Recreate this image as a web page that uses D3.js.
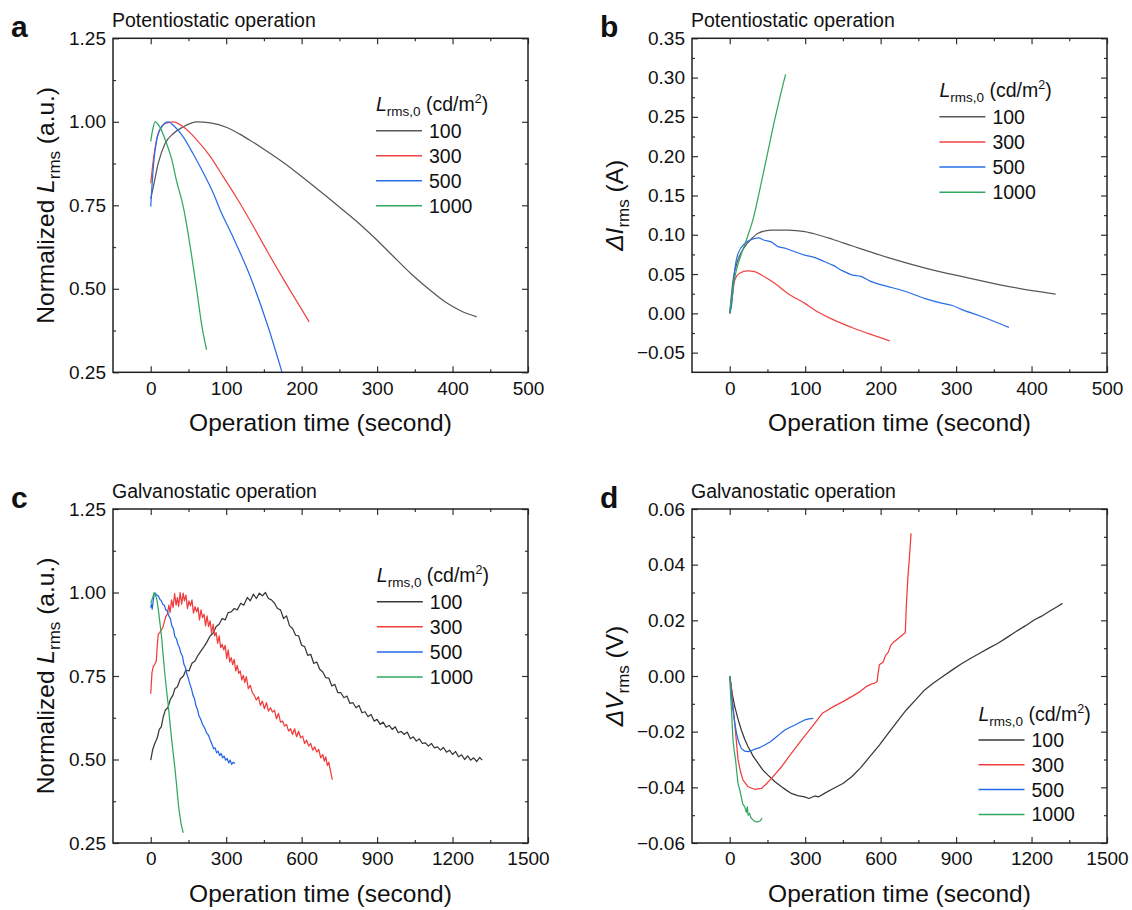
<!DOCTYPE html>
<html><head><meta charset="utf-8">
<script src="https://cdn.jsdelivr.net/npm/d3@7"></script>
<style>
body{margin:0;background:#fff;}
text{font-family:"Liberation Sans",Arial,Helvetica,sans-serif;fill:#111;}
</style></head><body>
<svg id="chart" width="1132" height="910"></svg>
<script>
// ---------------- DATA ----------------
const legendLabels = ["100", "300", "500", "1000"];

// tick labels
const xTicksPot = [0, 100, 200, 300, 400, 500];
const xTicksGal = [0, 300, 600, 900, 1200, 1500];
const yTicksLum = [0.25, 0.50, 0.75, 1.00, 1.25];
const yTicksCur = [-0.05, 0, 0.05, 0.10, 0.15, 0.20, 0.25, 0.30, 0.35];
const yTicksVolt = [-0.06, -0.04, -0.02, 0, 0.02, 0.04, 0.06];

// (a) Potentiostatic, normalized L_rms  [time s, value]
const potLum100 = [[0,0.77],[3.5,0.806],[10,0.876],[19,0.935],[30,0.965],[43,0.985],[61,1.0],[79,0.997],[101,0.983],[118,0.963],[132,0.944],[150,0.918],[179,0.873],[210,0.818],[250,0.745],[275,0.698],[297,0.652],[321,0.598],[345,0.545],[368,0.50],[392,0.458],[410,0.435],[432,0.416]];
const potLum300 = [[0,0.816],[3.5,0.886],[10,0.966],[19,0.995],[30,1.0],[43,0.985],[61,0.946],[79,0.896],[96,0.836],[114,0.772],[132,0.703],[155,0.610],[179,0.517],[195,0.457],[210,0.401]];
const potLum500 = [[0,0.746],[3.5,0.866],[8,0.946],[14.5,0.985],[23,1.0],[32,0.985],[43,0.955],[56,0.905],[70,0.846],[83,0.786],[92,0.736],[108,0.66],[132,0.536],[155,0.39],[174,0.25]];
const potLum1000 = [[0,0.941],[2.5,0.975],[5.7,1.0],[12,0.985],[21,0.935],[28,0.886],[34,0.825],[41,0.766],[44,0.736],[51,0.645],[61,0.496],[68,0.386],[74,0.317]];

// (b) Potentiostatic, delta I_rms (A)
const potCur100 = [[0,0],[4.4,0.042],[11,0.068],[20,0.085],[29,0.095],[37.6,0.102],[55,0.106],[77,0.106],[99.5,0.104],[113,0.101],[137,0.094],[162,0.086],[210,0.071],[258,0.058],[307,0.047],[355,0.037],[403,0.0285],[432,0.0246]];
const potCur300 = [[0,0],[2.2,0.0127],[6.6,0.042],[13,0.051],[24,0.054],[33,0.053],[46,0.0465],[60,0.038],[77,0.0254],[99.5,0.0127],[113,0.004],[137,-0.008],[162,-0.018],[186,-0.0265],[212,-0.035]];
const potCur500 = [[0,0],[2.2,0.0085],[6.6,0.055],[11,0.076],[20,0.089],[29,0.094],[37.6,0.096],[46,0.093],[55,0.091],[64,0.085],[73,0.083],[82,0.080],[99.5,0.074],[113,0.071],[125,0.066],[137,0.061],[150,0.054],[162,0.049],[174,0.047],[186,0.041],[210,0.034],[222,0.031],[234,0.0275],[258,0.019],[282,0.0127],[295,0.010],[307,0.005],[331,-0.003],[350,-0.010],[370,-0.0178]];
const potCur1000 = [[0,0],[4.4,0.034],[8.8,0.055],[15.5,0.076],[22,0.093],[26.5,0.106],[31,0.12],[40,0.158],[50,0.203],[60,0.248],[68,0.281],[74,0.304]];

// (c) Galvanostatic, normalized L_rms
const galLum100 = [[0,0.498],[8,0.530],[16,0.548],[26,0.565],[34,0.590],[42,0.598],[50,0.628],[58,0.648],[68,0.655],[78,0.680],[88,0.692],[96,0.712],[106,0.718],[118,0.742],[130,0.750],[140,0.768],[152,0.765],[164,0.788],[176,0.795],[188,0.812],[200,0.825],[212,0.838],[222,0.850],[236,0.870],[248,0.878],[260,0.898],[272,0.905],[284,0.922],[296,0.918],[308,0.940],[320,0.942],[332,0.952],[344,0.948],[358,0.968],[370,0.962],[384,0.985],[396,0.975],[408,0.995],[420,0.982],[432,0.998],[444,0.990],[456,1.0],[468,0.982],[480,0.978],[492,0.968],[504,0.952],[516,0.948],[528,0.922],[540,0.930],[552,0.900],[564,0.892],[576,0.872],[588,0.870],[600,0.842],[612,0.838],[624,0.812],[636,0.815],[648,0.788],[660,0.792],[672,0.770],[684,0.762],[696,0.745],[708,0.744],[720,0.720],[732,0.725],[744,0.700],[756,0.700],[768,0.685],[780,0.690],[792,0.668],[804,0.670],[816,0.655],[828,0.662],[840,0.640],[852,0.643],[864,0.628],[876,0.635],[888,0.615],[900,0.620],[912,0.605],[924,0.612],[936,0.597],[948,0.602],[960,0.590],[972,0.598],[984,0.580],[996,0.584],[1008,0.575],[1020,0.582],[1032,0.562],[1044,0.568],[1056,0.555],[1068,0.562],[1080,0.548],[1092,0.550],[1104,0.540],[1116,0.548],[1128,0.535],[1140,0.538],[1152,0.528],[1164,0.536],[1176,0.522],[1188,0.528],[1200,0.515],[1212,0.524],[1224,0.508],[1236,0.514],[1248,0.500],[1260,0.511],[1272,0.498],[1284,0.505],[1296,0.494],[1308,0.506],[1318,0.498]];
const galLum300 = [[0,0.697],[5,0.760],[10,0.778],[16,0.785],[22,0.795],[26,0.840],[30,0.875],[36,0.880],[42,0.888],[48,0.895],[54,0.912],[60,0.928],[66,0.935],[72,0.962],[77,0.940],[83,0.978],[89,0.955],[95,0.997],[101,0.962],[106,0.985],[111,0.958],[117,1.0],[123,0.965],[129,0.998],[134,0.975],[140,0.992],[146,0.952],[152,0.975],[158,0.960],[164,0.978],[170,0.938],[176,0.958],[182,0.942],[188,0.955],[194,0.918],[200,0.948],[206,0.925],[212,0.935],[218,0.900],[224,0.930],[230,0.898],[236,0.915],[242,0.878],[248,0.905],[254,0.870],[260,0.880],[266,0.848],[272,0.870],[278,0.835],[284,0.845],[290,0.828],[296,0.842],[302,0.802],[308,0.828],[314,0.792],[320,0.805],[326,0.784],[332,0.800],[338,0.765],[344,0.782],[350,0.758],[356,0.765],[362,0.738],[368,0.752],[374,0.730],[380,0.748],[388,0.712],[396,0.722],[404,0.700],[412,0.692],[420,0.678],[428,0.688],[436,0.662],[444,0.675],[452,0.652],[460,0.670],[468,0.645],[476,0.655],[484,0.642],[492,0.648],[500,0.622],[508,0.638],[516,0.612],[524,0.615],[532,0.600],[540,0.605],[548,0.585],[556,0.592],[564,0.575],[572,0.592],[580,0.568],[588,0.585],[596,0.565],[604,0.570],[612,0.548],[620,0.558],[628,0.540],[636,0.548],[644,0.528],[652,0.538],[660,0.522],[668,0.530],[676,0.505],[684,0.515],[690,0.495],[696,0.508],[702,0.482],[708,0.492],[714,0.468],[722,0.440]];
const galLum500 = [[0,0.955],[3,0.965],[6,0.950],[10,0.975],[14,0.995],[18,0.998],[24,0.992],[30,0.990],[36,0.980],[42,0.975],[48,0.965],[54,0.962],[60,0.948],[66,0.945],[72,0.930],[78,0.922],[84,0.900],[90,0.892],[96,0.868],[102,0.862],[108,0.845],[114,0.835],[120,0.818],[126,0.810],[132,0.785],[138,0.775],[144,0.755],[150,0.742],[156,0.725],[162,0.712],[168,0.692],[174,0.682],[180,0.660],[186,0.650],[192,0.630],[198,0.622],[206,0.605],[214,0.595],[222,0.580],[230,0.572],[238,0.555],[244,0.545],[250,0.532],[256,0.535],[262,0.520],[268,0.525],[274,0.512],[280,0.518],[286,0.505],[292,0.510],[298,0.498],[304,0.503],[310,0.490],[316,0.498],[322,0.485],[328,0.492],[335,0.488]];
const galLum1000 = [[0,0.967],[8,0.985],[14,1.0],[20,0.99],[24,0.98],[30,0.95],[37,0.907],[44,0.86],[50,0.807],[57,0.75],[64,0.70],[70,0.66],[82,0.568],[97,0.468],[111,0.358],[120,0.31],[129,0.28]];

// (d) Galvanostatic, delta V_rms (V)
const galVolt100 = [[0,0],[10,-0.0065],[20,-0.011],[33,-0.0155],[46,-0.0194],[60,-0.0228],[73,-0.0254],[93,-0.0288],[113,-0.0314],[132,-0.0338],[152,-0.0356],[180,-0.0380],[206,-0.0398],[225,-0.0410],[245,-0.0422],[270,-0.0430],[298,-0.0434],[315,-0.0440],[338,-0.0431],[354,-0.0434],[380,-0.0420],[412,-0.0404],[450,-0.0386],[485,-0.0362],[520,-0.0330],[557,-0.0290],[595,-0.0248],[630,-0.0206],[665,-0.0165],[702,-0.0122],[740,-0.0085],[775,-0.0050],[810,-0.0025],[847,-0.0002],[885,0.0022],[920,0.0043],[955,0.0062],[992,0.0081],[1030,0.0100],[1065,0.0117],[1100,0.0137],[1137,0.0159],[1175,0.0180],[1210,0.0201],[1240,0.0215],[1268,0.0231],[1300,0.0248],[1323,0.0261]];
const galVolt300 = [[0,0],[5,-0.0026],[12,-0.010],[20,-0.017],[33,-0.030],[43,-0.0345],[53,-0.0374],[73,-0.0398],[99,-0.0407],[126,-0.0404],[145,-0.0388],[166,-0.0368],[206,-0.0326],[245,-0.0278],[285,-0.023],[338,-0.017],[368,-0.0134],[390,-0.0122],[412,-0.011],[450,-0.0092],[485,-0.0074],[515,-0.0058],[543,-0.0038],[560,-0.0030],[575,-0.0026],[586,-0.002],[590,0.001],[595,0.004],[610,0.005],[620,0.0075],[630,0.0085],[640,0.011],[650,0.012],[670,0.0135],[690,0.015],[698,0.0155],[702,0.025],[708,0.035],[714,0.042],[721,0.0513]];
const galVolt500 = [[0,0],[6,-0.006],[13,-0.0122],[20,-0.0168],[27,-0.0206],[36,-0.0238],[46,-0.026],[60,-0.027],[73,-0.0272],[86,-0.0268],[99,-0.0263],[120,-0.0257],[139,-0.0248],[160,-0.0237],[179,-0.0224],[200,-0.0208],[219,-0.0194],[240,-0.0184],[259,-0.0176],[280,-0.0166],[298,-0.0158],[315,-0.0154],[332,-0.0152]];
const galVolt1000 = [[0,0],[3,-0.006],[7,-0.0122],[10,-0.018],[13,-0.023],[18,-0.027],[23,-0.030],[28,-0.0345],[33,-0.0386],[40,-0.041],[46,-0.0434],[52,-0.046],[60,-0.047],[66,-0.049],[70,-0.047],[73,-0.050],[78,-0.0493],[85,-0.051],[93,-0.0517],[100,-0.0522],[108,-0.0524],[115,-0.0523],[122,-0.052],[129,-0.0511]];

// ---------------- DRAWING ----------------
const svg = d3.select("#chart");
const colorsPot = ["#585858", "#f04545", "#2a6ee6", "#31a862"];
const colorsGal = ["#383838", "#f03c3c", "#2468e6", "#31a862"];
const fmt2 = d3.format(".2f");
const fmtInt = d3.format("d");

function midpoints(arr) { return arr.slice(1).map((v, i) => (v + arr[i]) / 2); }

function drawPanel(p) {
  const x = d3.scaleLinear().domain(p.xDomain).range([p.x0, p.x1]);
  const y = d3.scaleLinear().domain(p.yDomain).range([p.y1, p.y0]);
  const g = svg.append("g");
  const clipId = "clip_" + p.letter;
  svg.append("clipPath").attr("id", clipId).append("rect")
    .attr("x", p.x0).attr("y", p.y0).attr("width", p.x1 - p.x0).attr("height", p.y1 - p.y0);

  // data lines
  const line = d3.line().x(d => x(d[0])).y(d => y(d[1])).curve(p.curve);
  p.series.forEach((s, i) => {
    g.append("path").datum(s).attr("d", line)
      .attr("fill", "none").attr("stroke", p.colors[i]).attr("stroke-width", 1.25)
      .attr("stroke-linejoin", "round").attr("clip-path", `url(#${clipId})`);
  });

  const xMinor = midpoints(p.xTicks);
  const yMinor = midpoints(p.yTicks);

  function styleAxis(sel) {
    sel.select(".domain").remove();
    sel.selectAll(".tick line").attr("stroke", "#333").attr("stroke-width", 1.2);
    sel.selectAll(".tick text").attr("font-size", 19).attr("fill", "#111")
      .attr("font-family", "Liberation Sans, Arial, sans-serif");
  }
  // bottom
  g.append("g").attr("transform", `translate(0,${p.y1})`)
    .call(d3.axisBottom(x).tickValues(p.xTicks).tickSizeInner(-6).tickSizeOuter(0).tickPadding(9).tickFormat(fmtInt)).call(styleAxis);
  g.append("g").attr("transform", `translate(0,${p.y1})`)
    .call(d3.axisBottom(x).tickValues(xMinor).tickSizeInner(-3).tickSizeOuter(0).tickFormat("")).call(styleAxis);
  // top
  g.append("g").attr("transform", `translate(0,${p.y0})`)
    .call(d3.axisTop(x).tickValues(p.xTicks).tickSizeInner(-6).tickSizeOuter(0).tickFormat("")).call(styleAxis);
  g.append("g").attr("transform", `translate(0,${p.y0})`)
    .call(d3.axisTop(x).tickValues(xMinor).tickSizeInner(-3).tickSizeOuter(0).tickFormat("")).call(styleAxis);
  // left
  g.append("g").attr("transform", `translate(${p.x0},0)`)
    .call(d3.axisLeft(y).tickValues(p.yTicks).tickSizeInner(-6).tickSizeOuter(0).tickPadding(7).tickFormat(fmt2)).call(styleAxis);
  g.append("g").attr("transform", `translate(${p.x0},0)`)
    .call(d3.axisLeft(y).tickValues(yMinor).tickSizeInner(-3).tickSizeOuter(0).tickFormat("")).call(styleAxis);
  // right
  g.append("g").attr("transform", `translate(${p.x1},0)`)
    .call(d3.axisRight(y).tickValues(p.yTicks).tickSizeInner(-6).tickSizeOuter(0).tickFormat("")).call(styleAxis);
  g.append("g").attr("transform", `translate(${p.x1},0)`)
    .call(d3.axisRight(y).tickValues(yMinor).tickSizeInner(-3).tickSizeOuter(0).tickFormat("")).call(styleAxis);

  // frame
  g.append("rect").attr("x", p.x0).attr("y", p.y0).attr("width", p.x1 - p.x0).attr("height", p.y1 - p.y0)
    .attr("fill", "none").attr("stroke", "#222").attr("stroke-width", 1.5);

  // panel letter
  g.append("text").attr("x", p.letterX).attr("y", p.y0 - 1).attr("font-size", 30).attr("font-weight", "bold").text(p.letter);
  // title
  g.append("text").attr("x", p.x0 - 1).attr("y", p.y0 - 11.5).attr("font-size", 19.5).text(p.title);

  // x-axis title
  g.append("text").attr("x", (p.x0 + p.x1) / 2).attr("y", p.y1 + 59).attr("text-anchor", "middle")
    .attr("font-size", 24.5).text("Operation time (second)");

  // y-axis title
  const yt = g.append("text")
    .attr("transform", `translate(${p.yTitleX},${(p.y0 + p.y1) / 2}) rotate(-90)`)
    .attr("text-anchor", "middle").attr("font-size", 24.5);
  p.yTitle.forEach(part => {
    const t = yt.append("tspan").text(part.t);
    if (part.i) t.attr("font-style", "italic");
    if (part.sub) t.attr("font-size", 17).attr("dy", 6);
    if (part.back) t.attr("dy", -6);
  });

  // legend
  const lg = g.append("g");
  const head = lg.append("text").attr("x", p.lx).attr("y", p.ly - 19.5).attr("font-size", 19.5);
  head.append("tspan").attr("font-style", "italic").text("L");
  head.append("tspan").attr("font-size", 13.5).attr("dy", 5).text("rms,0");
  head.append("tspan").attr("dy", -5).text(" (cd/m");
  head.append("tspan").attr("font-size", 12.5).attr("dy", -8).text("2");
  head.append("tspan").attr("dy", 8).text(")");
  legendLabels.forEach((lab, i) => {
    const yy = p.ly + i * p.lstep;
    lg.append("line").attr("x1", p.lx).attr("x2", p.lx + 46).attr("y1", yy).attr("y2", yy)
      .attr("stroke", p.colors[i]).attr("stroke-width", 1.5);
    lg.append("text").attr("x", p.lx + 53).attr("y", yy).attr("dy", "0.36em").attr("font-size", 19.5).text(lab);
  });
}

const titleNormL = [{t: "Normalized "}, {t: "L", i: true}, {t: "rms", sub: true}, {t: " (a.u.)", back: true}];

drawPanel({
  letter: "a", letterX: 11, title: "Potentiostatic operation",
  x0: 113, x1: 528, y0: 38.3, y1: 372.3,
  xDomain: [-50, 500], yDomain: [0.25, 1.25], xTicks: xTicksPot, yTicks: yTicksLum,
  series: [potLum100, potLum300, potLum500, potLum1000], colors: colorsPot, curve: d3.curveMonotoneX,
  yTitle: titleNormL, yTitleX: 54,
  lx: 376, ly: 130.7, lstep: 25
});
drawPanel({
  letter: "b", letterX: 600, title: "Potentiostatic operation",
  x0: 692, x1: 1107, y0: 38.3, y1: 372.3,
  xDomain: [-50, 500], yDomain: [-0.075, 0.35], xTicks: xTicksPot, yTicks: yTicksCur,
  series: [potCur100, potCur300, potCur500, potCur1000], colors: colorsPot, curve: d3.curveMonotoneX,
  yTitle: [{t: "\u0394I", i: true}, {t: "rms", sub: true}, {t: " (A)", back: true}], yTitleX: 623,
  lx: 939.4, ly: 116.7, lstep: 25.2
});
drawPanel({
  letter: "c", letterX: 11, title: "Galvanostatic operation",
  x0: 113, x1: 528, y0: 509, y1: 843,
  xDomain: [-150, 1500], yDomain: [0.25, 1.25], xTicks: xTicksGal, yTicks: yTicksLum,
  series: [galLum100, galLum300, galLum500, galLum1000], colors: colorsGal, curve: d3.curveLinear,
  yTitle: titleNormL, yTitleX: 54,
  lx: 376.8, ly: 601.7, lstep: 25.1
});
drawPanel({
  letter: "d", letterX: 600, title: "Galvanostatic operation",
  x0: 692, x1: 1107, y0: 509, y1: 843,
  xDomain: [-150, 1500], yDomain: [-0.06, 0.06], xTicks: xTicksGal, yTicks: yTicksVolt,
  series: [galVolt100, galVolt300, galVolt500, galVolt1000], colors: colorsGal, curve: d3.curveLinear,
  yTitle: [{t: "\u0394V", i: true}, {t: "rms", sub: true}, {t: " (V)", back: true}], yTitleX: 623,
  lx: 978.5, ly: 740, lstep: 24.8
});
</script>
</body></html>
